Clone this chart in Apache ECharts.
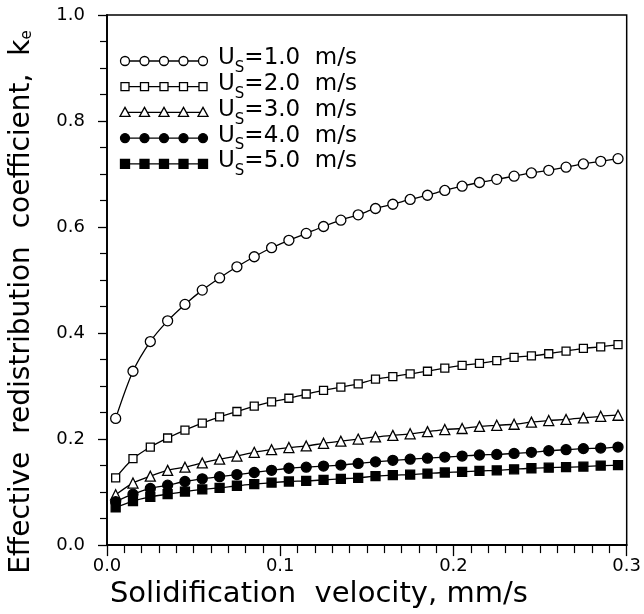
<!DOCTYPE html>
<html>
<head>
<meta charset="utf-8">
<script src="https://cdn.jsdelivr.net/npm/echarts@6/dist/echarts.min.js"></script>
<style>html,body{margin:0;padding:0;background:#fff;}#c{width:644px;height:614px;}</style>
</head>
<body>
<div id="c"></div>
<script>
var xs = [0.005,0.015,0.025,0.035,0.045,0.055,0.065,0.075,0.085,0.095,0.105,0.115,0.125,0.135,0.145,0.155,0.165,0.175,0.185,0.195,0.205,0.215,0.225,0.235,0.245,0.255,0.265,0.275,0.285,0.295];
var k1 = [0.239,0.328,0.384,0.423,0.454,0.481,0.504,0.525,0.544,0.561,0.575,0.588,0.601,0.613,0.623,0.635,0.643,0.652,0.660,0.669,0.677,0.684,0.690,0.696,0.702,0.707,0.713,0.719,0.724,0.729];
var k2 = [0.127,0.163,0.185,0.202,0.217,0.230,0.242,0.252,0.262,0.270,0.277,0.285,0.292,0.298,0.304,0.313,0.318,0.323,0.328,0.334,0.339,0.343,0.348,0.354,0.357,0.361,0.366,0.371,0.374,0.378];
var k3 = [0.095,0.117,0.130,0.141,0.147,0.155,0.162,0.168,0.175,0.180,0.184,0.187,0.192,0.196,0.200,0.204,0.207,0.210,0.214,0.218,0.220,0.224,0.226,0.228,0.232,0.235,0.237,0.240,0.243,0.245];
var k4 = [0.082,0.096,0.107,0.113,0.120,0.125,0.129,0.133,0.137,0.141,0.145,0.147,0.149,0.151,0.154,0.157,0.160,0.162,0.164,0.166,0.168,0.170,0.171,0.173,0.175,0.178,0.180,0.182,0.183,0.185];
var k5 = [0.071,0.083,0.091,0.096,0.101,0.105,0.108,0.112,0.115,0.118,0.120,0.121,0.123,0.125,0.127,0.130,0.132,0.133,0.135,0.137,0.138,0.140,0.141,0.143,0.145,0.146,0.147,0.148,0.150,0.151];
var legendNames = ['1.0','2.0','3.0','4.0','5.0'];
var xTicks = ['0.0','0.1','0.2','0.3'];

function pairs(ys){ return xs.map(function(x,i){ return [x, ys[i]]; }); }

var FONT = 'DejaVu Sans';
var markerDefs = [
  {symbol:'circle', size:10, fill:'#fff'},
  {symbol:'rect', size:8, fill:'#fff'},
  {symbol:'triangle', size:10, fill:'#fff'},
  {symbol:'circle', size:10, fill:'#000'},
  {symbol:'rect', size:9, fill:'#000'}
];
var allData = [k1,k2,k3,k4,k5];

var series = allData.map(function(d, i){
  var m = markerDefs[i];
  return {
    type:'line', data: pairs(d), smooth: 0.3,
    symbol: m.symbol, symbolSize: m.size, showAllSymbol: true,
    lineStyle:{color:'#000', width:1.3},
    itemStyle:{color:m.fill, borderColor:'#000', borderWidth:1.3},
    z: 3 + i, animation:false
  };
});

// legend built from graphic elements
var graphics = [];
var lx0 = 125, lx1 = 203, ly0 = 61, ldy = 25.7;
legendNames.forEach(function(n, i){
  var y = ly0 + i*ldy;
  var m = markerDefs[i];
  graphics.push({type:'line', shape:{x1:lx0,y1:y,x2:lx1,y2:y}, style:{stroke:'#000', lineWidth:1.3}, z:10});
  for (var j=0;j<5;j++){
    var cx = lx0 + j*(lx1-lx0)/4;
    var st = {fill:m.fill, stroke:'#000', lineWidth:1.3};
    if (m.symbol==='circle') graphics.push({type:'circle', shape:{cx:cx, cy:y, r:m.size/2-0.5}, style:st, z:11});
    else if (m.symbol==='rect') graphics.push({type:'rect', shape:{x:cx-m.size/2, y:y-m.size/2, width:m.size, height:m.size}, style:st, z:11});
    else graphics.push({type:'polygon', shape:{points:[[cx,y-5],[cx+5,y+4],[cx-5,y+4]]}, style:st, z:11});
  }
  graphics.push({type:'text', left:218, top:y-14, z:11, style:{
    text:'{u|U}{s|S}{t|=' + n + '  m/s}',
    rich:{
      u:{fontFamily:FONT, fontSize:23, fill:'#000', verticalAlign:'bottom'},
      s:{fontFamily:FONT, fontSize:15, fill:'#000', padding:[0,0,-6,0], verticalAlign:'bottom'},
      t:{fontFamily:FONT, fontSize:23, fill:'#000', verticalAlign:'bottom'}
    }
  }});
});

var chart = echarts.init(document.getElementById('c'), null, {renderer:'canvas'});
chart.setOption({
  backgroundColor:'#fff',
  animation:false,
  grid:{left:102, right:14, top:15, bottom:67, show:true, borderColor:'#000', borderWidth:1.5, backgroundColor:'transparent'},
  xAxis:{
    type:'value', min:0, max:0.3, interval:0.1,
    name:'Solidification  velocity, mm/s', nameLocation:'middle', nameGap:31,
    nameTextStyle:{fontFamily:FONT, fontSize:29, color:'#000', padding:[0,96,0,0]},
    axisLine:{lineStyle:{color:'#000', width:1.8}},
    axisTick:{show:true, inside:false, length:11, lineStyle:{color:'#000', width:1.3}},
    minorTick:{show:true, splitNumber:10, length:8, lineStyle:{color:'#000', width:1.2}},
    splitLine:{show:false},
    axisLabel:{fontFamily:FONT, fontSize:18, color:'#000', margin:12,
      formatter:function(v){ var i = Math.round(v*10); return xTicks[i]; }}
  },
  yAxis:{
    type:'value', min:0, max:1.0, interval:0.2,
    name:'{a|Effective  redistribution  coefficient,  k}{b|e}', nameLocation:'middle', nameGap:71, nameRotate:90,
    nameTextStyle:{fontFamily:FONT, fontSize:28, color:'#000', padding:[0,44,0,0],
      rich:{a:{fontFamily:FONT, fontSize:28, color:'#000'}, b:{fontFamily:FONT, fontSize:15, color:'#000', padding:[10,0,0,0]}}},
    axisLine:{lineStyle:{color:'#000', width:1.8}},
    axisTick:{show:true, inside:false, length:9, lineStyle:{color:'#000', width:1.3}},
    minorTick:{show:true, splitNumber:4, length:7, lineStyle:{color:'#000', width:1.2}},
    splitLine:{show:false},
    axisLabel:{fontFamily:FONT, fontSize:18, color:'#000', margin:22,
      formatter:function(v){ return v.toFixed(1); }}
  },
  graphic: graphics,
  series: series
});
</script>
</body>
</html>
